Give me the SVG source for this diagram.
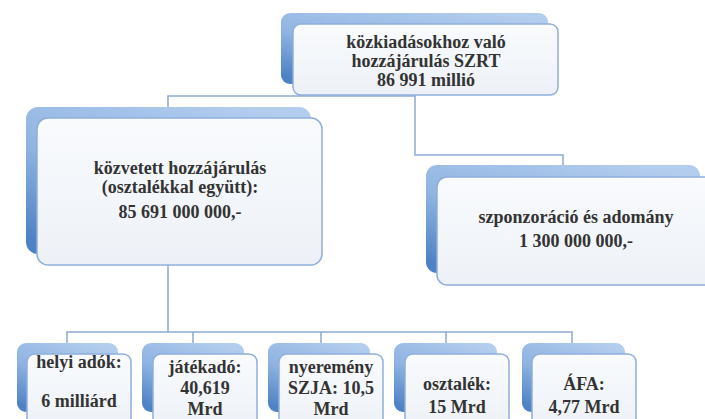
<svg xmlns="http://www.w3.org/2000/svg" width="705" height="419" viewBox="0 0 705 419">
<defs>
<linearGradient id="back" x1="0.8" y1="0" x2="0.2" y2="1">
<stop offset="0" stop-color="#b3cdee"/>
<stop offset="0.55" stop-color="#8fb3e2"/>
<stop offset="1" stop-color="#4f82c4"/>
</linearGradient>
<linearGradient id="front" x1="0" y1="0" x2="0" y2="1">
<stop offset="0" stop-color="#f9fbfd"/>
<stop offset="1" stop-color="#edf1f7"/>
</linearGradient>
<style>
.back{fill:url(#back);}
.front{fill:url(#front);stroke:#8eaedb;stroke-width:1.5;}
.conn{fill:none;stroke:#8eaad6;stroke-width:1.5;}
text{font-family:"Liberation Serif","Times New Roman",serif;font-weight:bold;font-size:18px;fill:#333333;text-anchor:middle;}
</style>
</defs>
<rect width="705" height="419" fill="#ffffff"/>
<g id="connectors">
<path class="conn" d="M415,83 V96 H168 V107"/>
<path class="conn" d="M415,83 V155 H563 V165"/>
<path class="conn" d="M168,253 V332 M67,343 V332 H572 V343 M193,332 V343 M321,332 V343 M446,332 V343"/>
</g>
<g id="n-top">
<rect class="back" x="281" y="13" width="267" height="71" rx="9"/>
<rect class="front" x="293" y="24" width="265" height="71" rx="8"/>
<text x="426" y="48">közkiadásokhoz való</text>
<text x="426" y="67">hozzájárulás SZRT</text>
<text x="426" y="86">86 991 millió</text>
</g>
<g id="n-kozvetett">
<rect class="back" x="26" y="107" width="285" height="147" rx="12"/>
<rect class="front" x="37" y="118" width="285" height="147" rx="11"/>
<text x="180" y="174">közvetett hozzájárulás</text>
<text x="180" y="193">(osztalékkal együtt):</text>
<text x="180" y="218">85 691 000 000,-</text>
</g>
<g id="n-szponzoracio">
<rect class="back" x="426" y="165" width="274" height="108" rx="11"/>
<rect class="front" x="437" y="177" width="278" height="108" rx="10"/>
<text x="576" y="223">szponzoráció és adomány</text>
<text x="576" y="247">1 300 000 000,-</text>
</g>
<g id="n-helyi">
<rect class="back" x="17" y="343" width="101" height="69" rx="9"/>
<rect class="front" x="27" y="354" width="104" height="75" rx="8"/>
<text x="79" y="368">helyi adók:</text>
<text x="79" y="407">6 milliárd</text>
</g>
<g id="n-jatekado">
<rect class="back" x="142" y="343" width="102" height="69" rx="9"/>
<rect class="front" x="153" y="354" width="104" height="75" rx="8"/>
<text x="205" y="373">játékadó:</text>
<text x="205" y="394">40,619</text>
<text x="205" y="415">Mrd</text>
</g>
<g id="n-nyeremeny">
<rect class="back" x="268" y="343" width="102" height="69" rx="9"/>
<rect class="front" x="279" y="354" width="104" height="75" rx="8"/>
<text x="331" y="373">nyeremény</text>
<text x="331" y="394">SZJA: 10,5</text>
<text x="331" y="415">Mrd</text>
</g>
<g id="n-osztalek">
<rect class="back" x="394" y="343" width="103" height="69" rx="9"/>
<rect class="front" x="405" y="354" width="104" height="75" rx="8"/>
<text x="457" y="390">osztalék:</text>
<text x="457" y="413">15 Mrd</text>
</g>
<g id="n-afa">
<rect class="back" x="522" y="343" width="103" height="69" rx="9"/>
<rect class="front" x="532" y="354" width="104" height="75" rx="8"/>
<text x="584" y="390">ÁFA:</text>
<text x="584" y="413">4,77 Mrd</text>
</g>
</svg>
